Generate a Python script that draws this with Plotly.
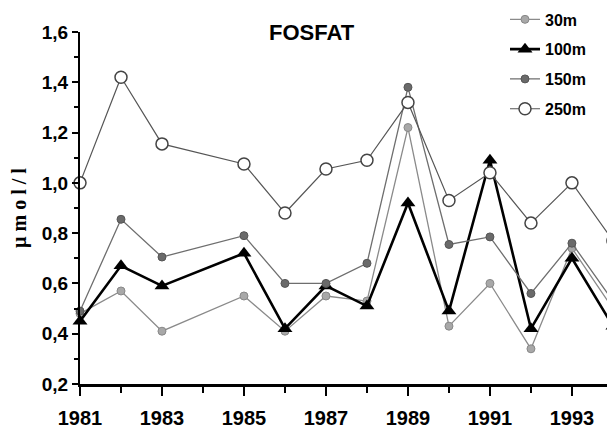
import plotly.graph_objects as go

# years sampled (no 1984 cruise)
years = [1981, 1982, 1983, 1985, 1986, 1987, 1988, 1989, 1990, 1991, 1992, 1993, 1994]

fosfat_30m = [0.48, 0.57, 0.41, 0.55, 0.41, 0.55, 0.53, 1.22, 0.43, 0.60, 0.34, 0.74, 0.50]
fosfat_100m = [0.45, 0.67, 0.59, 0.72, 0.42, 0.59, 0.51, 0.92, 0.49, 1.09, 0.42, 0.70, 0.43]
fosfat_150m = [0.49, 0.855, 0.705, 0.79, 0.60, 0.60, 0.68, 1.38, 0.755, 0.785, 0.56, 0.76, 0.53]
fosfat_250m = [1.00, 1.42, 1.155, 1.075, 0.88, 1.055, 1.09, 1.32, 0.93, 1.04, 0.84, 1.00, 0.77]

SANS = "Liberation Sans, Arial, sans-serif"
SERIF = "Liberation Serif, Times New Roman, serif"

fig = go.Figure()

fig.add_trace(go.Scatter(
    x=years, y=fosfat_30m, name="30m", legendgroup="a", mode="lines+markers",
    line=dict(color="#8a8a8a", width=1.3),
    marker=dict(symbol="circle", size=8, color="#a8a8a8",
                line=dict(color="#888888", width=1)),
    cliponaxis=False,
))
fig.add_trace(go.Scatter(
    x=years, y=fosfat_100m, name="100m", legendgroup="b", mode="lines+markers",
    line=dict(color="black", width=2.6),
    marker=dict(symbol="triangle-up", size=13, color="black"),
    cliponaxis=False,
))
fig.add_trace(go.Scatter(
    x=years, y=fosfat_150m, name="150m", legendgroup="c", mode="lines+markers",
    line=dict(color="#6e6e6e", width=1.3),
    marker=dict(symbol="circle", size=8, color="#6a6a6a",
                line=dict(color="#555555", width=1)),
    cliponaxis=False,
))
fig.add_trace(go.Scatter(
    x=years, y=fosfat_250m, name="250m", legendgroup="d", mode="lines+markers",
    line=dict(color="#555555", width=1.2),
    marker=dict(symbol="circle", size=12, color="white",
                line=dict(color="#444444", width=1.5)),
    cliponaxis=False,
))

# page body has an 8px margin, so the figure is 8px smaller and margins shifted
fig.update_layout(
    width=607, height=424,
    margin=dict(l=72, r=0, t=24, b=48, autoexpand=False),
    paper_bgcolor="white", plot_bgcolor="white",
    separators=", ",
    showlegend=True,
    legend=dict(
        x=(505 - 80) / 535, y=1.084, xanchor="left", yanchor="top",
        font=dict(family=SANS, size=16, color="black", weight="bold"),
        bgcolor="rgba(0,0,0,0)", tracegroupgap=6,
    ),
    annotations=[
        dict(text="FOSFAT", x=(312 - 80) / 535, y=1.0, xref="paper", yref="paper",
             xanchor="center", yanchor="middle", showarrow=False,
             font=dict(family=SANS, size=22, color="black", weight="bold")),
        dict(text="µ m o l / l", x=(19 - 80) / 535, y=(384 - 208) / 352,
             xref="paper", yref="paper",
             xanchor="center", yanchor="middle", showarrow=False, textangle=-90,
             font=dict(family=SERIF, size=20, color="black", weight="bold")),
    ],
)

fig.update_xaxes(
    range=[1981, 1994.05], tick0=1981, dtick=2, automargin=False,
    showgrid=False, zeroline=False,
    showline=True, linecolor="black", linewidth=3,
    ticks="outside", ticklen=9, tickwidth=2, tickcolor="black",
    ticklabelstandoff=5,
    minor=dict(dtick=1, ticks="outside", ticklen=6, tickwidth=2, tickcolor="black"),
    tickfont=dict(family=SANS, size=20, color="black", weight="bold"),
)
fig.update_yaxes(
    range=[0.2, 1.6], tick0=0.2, dtick=0.2, tickformat=".1f", automargin=False,
    showgrid=False, zeroline=False,
    showline=True, linecolor="black", linewidth=2,
    ticks="outside", ticklen=6, tickwidth=2, tickcolor="black",
    minor=dict(dtick=0.1, ticks="outside", ticklen=4, tickwidth=2, tickcolor="black"),
    tickfont=dict(family=SANS, size=19, color="black", weight="bold"),
)

fig.write_html("out.html")
